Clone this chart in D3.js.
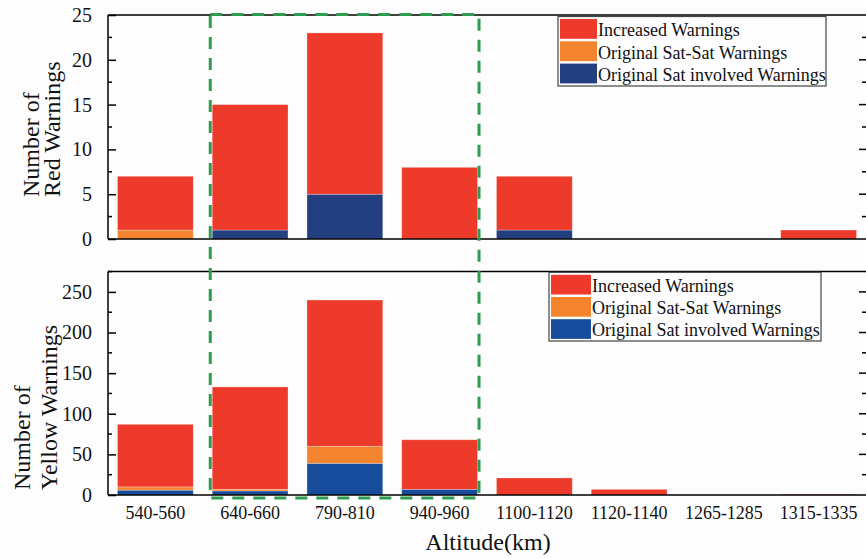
<!DOCTYPE html>
<html>
<head>
<meta charset="utf-8">
<script src="https://cdn.jsdelivr.net/npm/d3@7"></script>
<style>
  html, body { margin: 0; padding: 0; background: #fdfdfd; }
  svg { display: block; font-family: "Liberation Serif", "Times New Roman", serif; }
</style>
</head>
<body>
<svg id="chart" width="866" height="558"></svg>
<script>
// Altitude bands
const categories = ["540-560", "640-660", "790-810", "940-960", "1100-1120", "1120-1140", "1265-1285", "1315-1335"];

// Red warnings per band
const redInvolved  = [0, 1, 5, 0, 1, 0, 0, 0];
const redSatSat    = [1, 0, 0, 0, 0, 0, 0, 0];
const redIncreased = [6, 14, 18, 8, 6, 0, 0, 1];

// Yellow warnings per band
const yellowInvolved  = [6, 5, 39, 7, 0, 0, 0, 0];
const yellowSatSat    = [4, 2, 21, 0, 0, 0, 0, 0];
const yellowIncreased = [77, 126, 180, 61, 21, 7, 0, 1];

const seriesNames = ["Increased Warnings", "Original Sat-Sat Warnings", "Original Sat involved Warnings"];
const redTicks = [0, 5, 10, 15, 20, 25];
const yellowTicks = [0, 50, 100, 150, 200, 250];
const highlighted = ["640-660", "940-960"];

const svg = d3.select("#chart");
const W = 866;
const left = 108, right = 867;
const serif = "'Liberation Serif', 'Times New Roman', serif";

const x = d3.scaleBand().domain(categories).range([left, right - 1]).paddingInner(0.2).paddingOuter(0.1);

const keys = ["involved", "satsat", "increased"];

function panel(opts) {
  const { top, bottom, max, ticks, minorStep, involved, satsat, increased, colors, legend, labelLines, labelX, labelStart } = opts;
  const y = d3.scaleLinear().domain([0, max]).range([bottom, top]);
  const g = svg.append("g");

  const rows = categories.map((c, i) => ({ cat: c, involved: involved[i], satsat: satsat[i], increased: increased[i] }));
  const stacked = d3.stack().keys(keys)(rows);

  g.selectAll("g.layer").data(stacked).join("g")
    .attr("class", "layer")
    .attr("fill", d => colors[d.key])
    .selectAll("rect").data(d => d).join("rect")
      .attr("x", d => x(d.data.cat))
      .attr("width", x.bandwidth())
      .attr("y", d => y(d[1]))
      .attr("height", d => Math.max(0, y(d[0]) - y(d[1])))
      .attr("stroke", "rgba(255,255,255,0.35)")
      .attr("stroke-width", 0.8);

  // frame: left, top, bottom lines
  g.append("line").attr("x1", left).attr("x2", left).attr("y1", top).attr("y2", bottom)
    .attr("stroke", "#000").attr("stroke-width", 1.5);
  g.append("line").attr("x1", left).attr("x2", W).attr("y1", top).attr("y2", top)
    .attr("stroke", "#000").attr("stroke-width", 1.5);
  g.append("line").attr("x1", left).attr("x2", W).attr("y1", bottom).attr("y2", bottom)
    .attr("stroke", "#000").attr("stroke-width", 1.5);

  // left axis with inward ticks
  const axisL = d3.axisLeft(y).tickValues(ticks).tickSize(-8).tickPadding(16).tickSizeOuter(0);
  const ax = g.append("g").attr("transform", `translate(${left},0)`).call(axisL);
  ax.select(".domain").remove();
  ax.selectAll(".tick line").attr("stroke", "#000").attr("stroke-width", 1.5);
  ax.selectAll(".tick text").attr("font-size", 20).attr("fill", "#111")
    .attr("font-family", serif);

  const minor = d3.range(minorStep, max + 0.001, minorStep * 2);
  g.selectAll("line.minorL").data(minor).join("line")
    .attr("x1", left).attr("x2", left + 4)
    .attr("y1", d => y(d)).attr("y2", d => y(d))
    .attr("stroke", "#000").attr("stroke-width", 1.5);

  // mirrored ticks on the right edge
  g.selectAll("line.majR").data(ticks.filter(t => t > 0 && t < max)).join("line")
    .attr("x1", W - 7).attr("x2", W)
    .attr("y1", d => y(d)).attr("y2", d => y(d))
    .attr("stroke", "#000").attr("stroke-width", 1.5);
  g.selectAll("line.minR").data(minor.filter(t => t < max)).join("line")
    .attr("x1", W - 4).attr("x2", W)
    .attr("y1", d => y(d)).attr("y2", d => y(d))
    .attr("stroke", "#000").attr("stroke-width", 1.5);

  // y label, two lines, start-anchored
  labelLines.forEach((t, i) => {
    g.append("text")
      .attr("transform", `translate(${labelX[i]},${labelStart}) rotate(-90)`)
      .attr("text-anchor", "start")
      .attr("font-size", 24)
      .attr("fill", "#111")
      .text(t);
  });

  // legend
  const lg = g.append("g");
  lg.append("rect").attr("x", legend.x).attr("y", legend.y).attr("width", legend.w).attr("height", legend.h)
    .attr("fill", "none").attr("stroke", "#444").attr("stroke-width", 1.2);
  const legColors = [colors.increased, colors.satsat, colors.involved];
  seriesNames.forEach((name, i) => {
    const ry = legend.y + 2.5 + i * legend.row;
    lg.append("rect").attr("x", legend.x + 2).attr("y", ry).attr("width", legend.sw).attr("height", legend.row - 2.5)
      .attr("fill", legColors[i]);
    lg.append("text").attr("x", legend.x + 3 + legend.sw).attr("y", ry + legend.row - 5)
      .attr("font-size", 18).attr("fill", "#111").text(name);
  });
  return y;
}

const yTop = panel({
  top: 15, bottom: 239, max: 25, ticks: redTicks, minorStep: 2.5,
  involved: redInvolved, satsat: redSatSat, increased: redIncreased,
  colors: { increased: "#ee3a2a", satsat: "#f5842f", involved: "#243f80" },
  legend: { x: 558, y: 16.5, w: 268, h: 69.5, row: 22.3, sw: 37 },
  labelLines: ["Number of", "Red Warnings"], labelX: [39, 60], labelStart: 197
});

const yBottom = panel({
  top: 271.6, bottom: 495, max: 275, ticks: yellowTicks, minorStep: 25,
  involved: yellowInvolved, satsat: yellowSatSat, increased: yellowIncreased,
  colors: { increased: "#ee3a2a", satsat: "#f5842f", involved: "#174b9c" },
  legend: { x: 549, y: 272.3, w: 272, h: 68.7, row: 22.2, sw: 40 },
  labelLines: ["Number of", "Yellow Warnings"], labelX: [30, 57], labelStart: 490
});

// category labels along the bottom
svg.append("g").selectAll("text").data(categories).join("text")
  .attr("x", d => x(d) + x.bandwidth() / 2)
  .attr("y", 519)
  .attr("text-anchor", "middle")
  .attr("font-size", 18)
  .attr("fill", "#111")
  .text(d => d);

svg.append("text")
  .attr("x", 488).attr("y", 550)
  .attr("text-anchor", "middle")
  .attr("font-size", 24)
  .attr("fill", "#111")
  .text("Altitude(km)");

// dashed box around the highlighted bands
const hx0 = x(highlighted[0]) - (x.step() - x.bandwidth()) / 2 + 7.5;
const hx1 = x(highlighted[1]) + x.bandwidth() + 1.5;
svg.append("rect")
  .attr("x", hx0).attr("y", 14.5)
  .attr("width", hx1 - hx0).attr("height", 498 - 14.5)
  .attr("fill", "none")
  .attr("stroke", "#2c9d50")
  .attr("stroke-width", 3)
  .attr("stroke-dasharray", "12,9");
</script>
</body>
</html>
